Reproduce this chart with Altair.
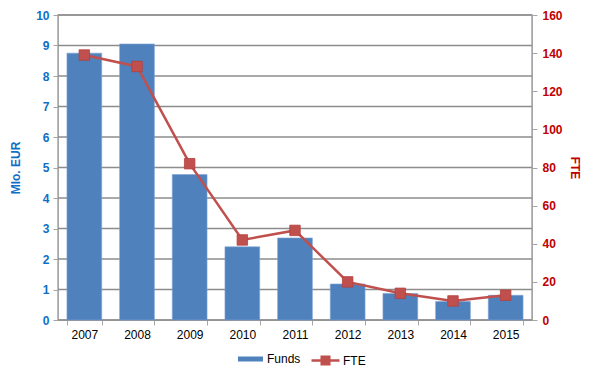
import altair as alt
import pandas as pd

years = ["2007", "2008", "2009", "2010", "2011", "2012", "2013", "2014", "2015"]
funds = [8.75, 9.05, 4.77, 2.40, 2.69, 1.18, 0.87, 0.61, 0.81]
fte = [139, 133, 82, 42, 47, 20, 14, 10, 13]
funds_ticks = [0, 1, 2, 3, 4, 5, 6, 7, 8, 9, 10]
fte_ticks = [0, 20, 40, 60, 80, 100, 120, 140, 160]

df = pd.DataFrame({"year": years, "funds": funds, "fte": fte})
df["s1"] = "Funds"
df["s2"] = "FTE"
grid_df = pd.DataFrame({"g": funds_ticks})

BLUE = "#4F81BD"
RED = "#C0504D"
AXBLUE = "#0F6FC6"
AXRED = "#C00000"
GRID = "#A6A6A6"
FONT = "Liberation Sans"

x = alt.X("year:O", title=None,
          scale=alt.Scale(paddingInner=0.34, paddingOuter=0.17),
          axis=alt.Axis(labelAngle=0, labelColor="#000000", labelFontSize=12,
                        labelFont=FONT, tickBand="extent", domainColor=GRID,
                        tickColor=GRID, tickSize=5, labelPadding=4))

grid = alt.Chart(grid_df).mark_rule(color="#8C8C8C", strokeWidth=1.5).encode(
    y=alt.Y("g:Q", scale=alt.Scale(domain=[0, 10]), axis=None),
)

bars = alt.Chart(df).mark_bar(stroke="#7FA3D3", strokeWidth=0.6).encode(
    x=x,
    y=alt.Y("funds:Q", scale=alt.Scale(domain=[0, 10]),
            axis=alt.Axis(title="Mlo. EUR", orient="left",
                          values=funds_ticks, labelOverlap=False,
                          labelColor=AXBLUE, labelFontWeight="bold", labelFontSize=12,
                          labelFont=FONT, titleColor=AXBLUE, titleFontSize=12,
                          titleFont=FONT, titleFontWeight="bold", titlePadding=13,
                          grid=False, domainColor=GRID,
                          tickColor=GRID, tickSize=5, labelPadding=4)),
    color=alt.Color("s1:N", scale=alt.Scale(domain=["Funds"], range=[BLUE]),
                    legend=alt.Legend(title=None, orient="none", legendX=180, legendY=331.5,
                                      symbolType="M-1,-0.2L1,-0.2L1,0.2L-1,0.2Z",
                                      symbolSize=625, symbolStrokeWidth=0, labelOffset=4,
                                      labelFont=FONT, labelFontSize=12, labelColor="#000000")),
)

line = alt.Chart(df).mark_line(
    strokeWidth=2.5,
    point=alt.OverlayMarkDef(shape="square", size=110, filled=True, opacity=1,
                             stroke="#B5403D", strokeWidth=0.8),
).encode(
    x=x,
    y=alt.Y("fte:Q", scale=alt.Scale(domain=[0, 160]),
            axis=alt.Axis(title="FTE", orient="right", values=fte_ticks, labelOverlap=False,
                          labelColor=AXRED, labelFontWeight="bold", labelFontSize=12,
                          labelFont=FONT, titleColor=AXRED, titleFontSize=12,
                          titleFont=FONT, titleFontWeight="bold", titlePadding=5,
                          grid=False, domainColor=GRID, tickColor=GRID, tickSize=5,
                          labelPadding=5)),
    color=alt.Color("s2:N", scale=alt.Scale(domain=["FTE"], range=[RED]),
                    legend=alt.Legend(title=None, orient="none", legendX=252, legendY=330,
                                      symbolType="M-1,0L1,0M-0.27,-0.27L0.27,-0.27L0.27,0.27L-0.27,0.27Z",
                                      symbolSize=784, symbolStrokeWidth=2.5, labelOffset=2,
                                      symbolFillColor=RED, symbolStrokeColor=RED,
                                      labelFont=FONT, labelFontSize=12, labelColor="#000000")),
)

chart = alt.layer(grid, bars, line).resolve_scale(
    y="independent", color="independent"
).properties(
    width=474, height=305,
    padding={"left": 50, "top": 7, "right": 57, "bottom": 50},
    autosize=alt.AutoSizeParams(type="none"),
    background="#FFFFFF",
).configure_view(stroke=GRID, strokeWidth=1.5)

chart.save("out.html", embed_options={"renderer": "svg", "actions": False})
